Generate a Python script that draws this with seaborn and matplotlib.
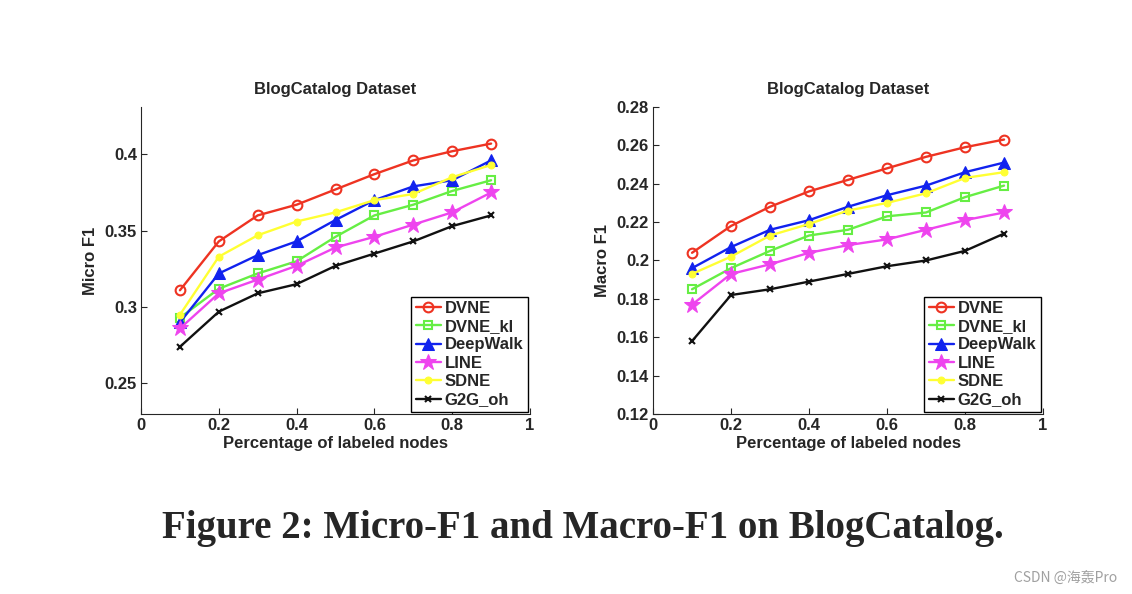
import numpy as np
import pandas as pd
import seaborn as sns
import matplotlib.pyplot as plt

# data
ratios = [0.1, 0.2, 0.3, 0.4, 0.5, 0.6, 0.7, 0.8, 0.9]
methods = ['DVNE', 'DVNE_kl', 'DeepWalk', 'LINE', 'SDNE', 'G2G_oh']

micro_dvne = [0.311, 0.343, 0.360, 0.367, 0.377, 0.387, 0.396, 0.402, 0.407]
micro_dvne_kl = [0.293, 0.312, 0.322, 0.330, 0.346, 0.360, 0.367, 0.376, 0.383]
micro_deepwalk = [0.290, 0.322, 0.334, 0.343, 0.357, 0.370, 0.379, 0.383, 0.396]
micro_line = [0.286, 0.309, 0.318, 0.327, 0.339, 0.346, 0.354, 0.362, 0.375]
micro_sdne = [0.295, 0.333, 0.347, 0.356, 0.362, 0.370, 0.374, 0.385, 0.393]
micro_g2g = [0.274, 0.297, 0.309, 0.315, 0.327, 0.335, 0.343, 0.353, 0.360]

macro_dvne = [0.204, 0.218, 0.228, 0.236, 0.242, 0.248, 0.254, 0.259, 0.263]
macro_dvne_kl = [0.185, 0.196, 0.205, 0.213, 0.216, 0.223, 0.225, 0.233, 0.239]
macro_deepwalk = [0.196, 0.207, 0.216, 0.221, 0.228, 0.234, 0.239, 0.246, 0.251]
macro_line = [0.177, 0.193, 0.198, 0.204, 0.208, 0.211, 0.216, 0.221, 0.225]
macro_sdne = [0.193, 0.202, 0.213, 0.219, 0.226, 0.230, 0.235, 0.243, 0.246]
macro_g2g = [0.158, 0.182, 0.185, 0.189, 0.193, 0.197, 0.200, 0.205, 0.214]

micro = [micro_dvne, micro_dvne_kl, micro_deepwalk, micro_line, micro_sdne, micro_g2g]
macro = [macro_dvne, macro_dvne_kl, macro_deepwalk, macro_line, macro_sdne, macro_g2g]

x_ticks = [0, 0.2, 0.4, 0.6, 0.8, 1]
x_ticklabels = ['0', '0.2', '0.4', '0.6', '0.8', '1']
micro_ticks = [0.25, 0.3, 0.35, 0.4]
micro_ticklabels = ['0.25', '0.3', '0.35', '0.4']
macro_ticks = [0.12, 0.14, 0.16, 0.18, 0.2, 0.22, 0.24, 0.26, 0.28]
macro_ticklabels = ['0.12', '0.14', '0.16', '0.18', '0.2', '0.22', '0.24', '0.26', '0.28']

colors = ['#ee3322', '#66ee44', '#1122ee', '#ee44ee', '#ffff33', '#111111']
styles = [
    dict(marker='o', mfc='none', ms=7, mew=1.5),
    dict(marker='s', mfc='none', ms=6, mew=1.5),
    dict(marker='^', ms=8),
    dict(marker='*', ms=12),
    dict(marker='o', ms=5),
    dict(marker='x', ms=5, mew=1.5),
]

sns.set_style('ticks')
plt.rcParams['font.family'] = ['Liberation Sans', 'DejaVu Sans']
plt.rcParams['font.weight'] = 'bold'
plt.rcParams['axes.labelweight'] = 'bold'
plt.rcParams['axes.titleweight'] = 'bold'

FS = 12

fig = plt.figure(figsize=(11.32, 5.94), dpi=100)
ax1 = fig.add_axes([0.1246, 0.303, 0.3436, 0.517])
ax2 = fig.add_axes([0.5769, 0.303, 0.3445, 0.517])


def draw(ax, series, yticks, yticklabels, ylim, ylabel):
    for name, vals, c, st in zip(methods, series, colors, styles):
        df = pd.DataFrame({'ratio': ratios, 'score': vals})
        sns.lineplot(data=df, x='ratio', y='score', ax=ax, color=c, lw=1.7,
                     label=name, mec=c, **st)
    ax.set_xlim(0, 1)
    ax.set_ylim(*ylim)
    ax.set_xticks(x_ticks)
    ax.set_xticklabels(x_ticklabels)
    ax.set_yticks(yticks)
    ax.set_yticklabels(yticklabels)
    ax.tick_params(direction='in', length=4, width=0.8, labelsize=FS, pad=3)
    for lab in ax.get_xticklabels() + ax.get_yticklabels():
        lab.set_fontweight('bold')
    for s in ['top', 'right']:
        ax.spines[s].set_visible(False)
    for s in ['left', 'bottom']:
        ax.spines[s].set_linewidth(0.8)
    ax.set_title('BlogCatalog Dataset', fontsize=FS, fontweight='bold', pad=9)
    ax.set_xlabel('Percentage of labeled nodes', fontsize=FS, labelpad=2)
    ax.set_ylabel(ylabel, fontsize=FS, labelpad=5)
    leg = ax.legend(loc='lower right', fontsize=FS, frameon=True, fancybox=False,
                    edgecolor='black', framealpha=1, handlelength=1.5,
                    labelspacing=0.2, borderpad=0.25, handletextpad=0.25,
                    borderaxespad=0.15)
    leg.get_frame().set_linewidth(1.0)
    for t in leg.get_texts():
        t.set_fontweight('bold')


draw(ax1, micro, micro_ticks, micro_ticklabels, (0.23, 0.431), 'Micro F1')
draw(ax2, macro, macro_ticks, macro_ticklabels, (0.12, 0.28), 'Macro F1')

fig.text(0.515, 0.11, 'Figure 2: Micro-F1 and Macro-F1 on BlogCatalog.',
         ha='center', va='center', fontsize=28, fontweight='bold',
         family='Liberation Serif')
fig.text(0.987, 0.027, 'CSDN @海轰Pro', ha='right', va='center', fontsize=10,
         color='#a0a0a0', fontweight='normal',
         family=['Noto Sans CJK SC', 'DejaVu Sans'])

fig.savefig('out.png', dpi=100)
